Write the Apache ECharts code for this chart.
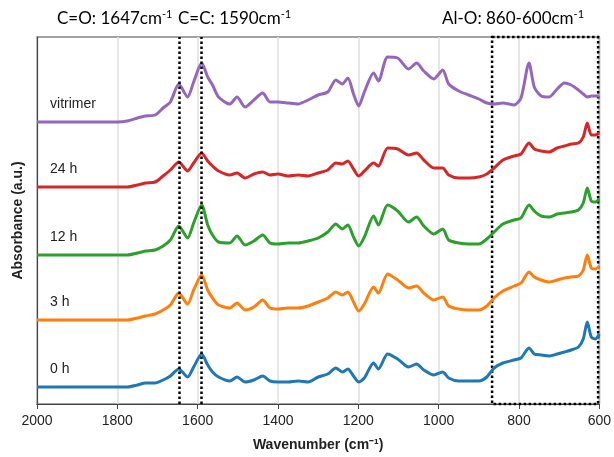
<!DOCTYPE html>
<html>
<head>
<meta charset="utf-8">
<script src="https://cdn.jsdelivr.net/npm/echarts@6/dist/echarts.min.js"></script>
<style>
html,body{margin:0;padding:0;background:#fff;}
#chart{width:614px;height:457px;}
</style>
</head>
<body>
<div id="chart"></div>
<script>
// Wavenumbers (cm^-1), descending
const wavenumbers = [2000, 1900, 1800, 1775, 1750, 1730, 1706, 1686, 1668, 1647, 1625, 1610, 1590, 1575, 1563, 1548, 1520, 1502, 1482, 1460, 1438, 1420, 1400, 1375, 1350, 1325, 1300, 1276, 1256, 1240, 1226, 1212, 1199, 1185, 1162, 1150, 1127, 1102, 1075, 1055, 1037, 1012, 990, 975, 950, 925, 900, 880, 862, 840, 812, 795, 775, 762, 745, 725, 705, 687, 670, 652, 640, 630, 620, 610, 600];

// Absorbance (x0.01 a.u., relative to each spectrum's 2000 cm^-1 baseline)
const abs0h = [0, 0, 0, 0, 2, 4, 4, 7, 11, 18, 10, 20, 33, 22, 15, 10, 6, 10, 5, 7, 11, 6, 5, 5, 6, 5, 10, 13, 19, 15, 18, 11, 5, 9, 24, 18, 33, 28, 20, 23, 17, 12, 15, 9, 6, 6, 6, 10, 19, 24, 27, 29, 39, 33, 32, 31, 33, 35, 37, 40, 48, 65, 50, 48, 53];
const abs3h = [0, 0, 0, 0, 2, 4, 6, 10, 15, 27, 16, 30, 45, 30, 22, 15, 12, 17, 10, 13, 20, 12, 11, 12, 12, 14, 18, 22, 28, 25, 28, 18, 9, 16, 33, 27, 46, 40, 32, 34, 27, 20, 23, 14, 11, 10, 10, 14, 22, 29, 34, 37, 48, 43, 40, 38, 40, 42, 43, 44, 50, 65, 52, 51, 54];
const abs12h = [0, 0, 0, 0, 2, 4, 5, 9, 15, 29, 17, 32, 50, 30, 20, 13, 12, 19, 10, 14, 20, 12, 11, 12, 12, 14, 17, 23, 31, 26, 30, 18, 9, 18, 39, 30, 50, 44, 33, 38, 29, 21, 26, 15, 12, 11, 11, 16, 23, 31, 35, 37, 50, 44, 39, 38, 41, 42, 43, 45, 52, 67, 54, 53, 56];
const abs24h = [0, 0, 0, 0, 2, 4, 5, 11, 17, 25, 16, 24, 34, 26, 21, 16, 12, 14, 9, 13, 15, 12, 13, 11, 12, 11, 14, 17, 24, 23, 26, 18, 11, 16, 24, 21, 39, 38, 32, 34, 27, 19, 19, 12, 9, 9, 10, 13, 19, 27, 31, 33, 44, 38, 36, 35, 39, 41, 43, 44, 50, 64, 52, 52, 54];
const absVitrimer = [0, 0, 0, 1, 4, 6, 7, 14, 20, 38, 25, 40, 59, 45, 37, 25, 18, 25, 15, 22, 29, 20, 20, 19, 18, 22, 27, 30, 42, 38, 44, 28, 16, 30, 49, 41, 65, 64, 53, 59, 51, 43, 52, 38, 31, 27, 23, 19, 18, 19, 17, 24, 59, 35, 26, 25, 33, 39, 37, 32, 28, 25, 26, 26, 26];

// Series names, vertical offsets (x0.01 a.u.) and colours
const seriesNames = ['0 h', '3 h', '12 h', '24 h', 'vitrimer'];
const seriesValues = [abs0h, abs3h, abs12h, abs24h, absVitrimer];
const offsets = [17, 84, 149, 217, 282];
const colors = ['#1f77b4', '#ff7f0e', '#2ca02c', '#d62728', '#9467bd'];

// Axis ticks and marked bands
const xTicks = [2000, 1800, 1600, 1400, 1200, 1000, 800, 600];
const bandLines = [1647, 1590];
const alOBand = [867, 603];

const chart = echarts.init(document.getElementById('chart'), null, {renderer: 'canvas'});

const series = seriesNames.map((name, k) => {
  const s = {
    name: name,
    type: 'line',
    data: wavenumbers.map((w, i) => [w, offsets[k] + seriesValues[k][i]]),
    showSymbol: false,
    smooth: 0.25,
    lineStyle: {color: colors[k], width: 3},
    itemStyle: {color: colors[k]},
    z: 3,
    markPoint: {
      symbolSize: 0,
      silent: true,
      data: [{coord: [1975, offsets[k] + 18], value: name}],
      label: {show: true, position: 'right', formatter: name, color: '#222', fontSize: 14, fontFamily: 'Liberation Sans', offset: [-2, 0]}
    },
    animation: false
  };
  if (k === 0) {
    s.markLine = {
      silent: true,
      symbol: 'none',
      label: {show: false},
      lineStyle: {color: '#000', type: [2.5, 2.5], width: 2.5},
      data: bandLines.map(b => ({xAxis: b}))
    };
    s.markArea = {
      silent: true,
      itemStyle: {color: 'rgba(0,0,0,0)', borderColor: '#000', borderType: [2.5, 2.5], borderWidth: 2.5},
      data: [[{xAxis: alOBand[0], yAxis: 367}, {xAxis: alOBand[1], yAxis: 0}]]
    };
  }
  return s;
});

const supStyle = {fontSize: 11, verticalAlign: 'top', padding: [0, 0, 8, 0], fontFamily: 'Lato', color: '#222'};
const annStyle = {fontSize: 17, fontFamily: 'Lato', color: '#222'};

chart.setOption({
  animation: false,
  backgroundColor: '#fff',
  grid: {left: 37, right: 14, top: 37, bottom: 53, show: true, borderColor: '#444', borderWidth: 1.2, backgroundColor: 'transparent'},
  xAxis: {
    type: 'value',
    inverse: true,
    min: 600,
    max: 2000,
    interval: 200,
    name: 'Wavenumber (cm\u207B\u00B9)',
    nameLocation: 'middle',
    nameGap: 34,
    nameTextStyle: {fontSize: 14, fontWeight: 'bold', color: '#222', fontFamily: 'Liberation Sans'},
    axisLine: {show: true, lineStyle: {color: '#444', width: 1.2}},
    axisTick: {show: true, length: 5, lineStyle: {color: '#444'}},
    axisLabel: {fontSize: 14, color: '#222', margin: 10, fontFamily: 'Liberation Sans', formatter: v => String(v)},
    splitLine: {show: true, lineStyle: {color: '#dedede', width: 1.5}}
  },
  yAxis: {
    type: 'value',
    min: 0,
    max: 367,
    name: 'Absorbance (a.u.)',
    nameLocation: 'middle',
    nameGap: 12,
    nameTextStyle: {fontSize: 14, fontWeight: 'bold', color: '#222', fontFamily: 'Liberation Sans'},
    axisLine: {show: true, lineStyle: {color: '#444', width: 1.2}},
    axisTick: {show: false},
    axisLabel: {show: false},
    splitLine: {show: false}
  },
  graphic: [
    {type: 'text', left: 57, top: 9, style: {rich: {a: annStyle, s: supStyle}, text: '{a|C=O: 1647cm}{s|-1}'}},
    {type: 'text', left: 178, top: 9, style: {rich: {a: annStyle, s: supStyle}, text: '{a|C=C: 1590cm}{s|-1}'}},
    {type: 'text', left: 442, top: 9, style: {rich: {a: annStyle, s: supStyle}, text: '{a|Al-O: 860-600cm}{s|-1}'}}
  ],
  series: series
});
</script>
</body>
</html>
